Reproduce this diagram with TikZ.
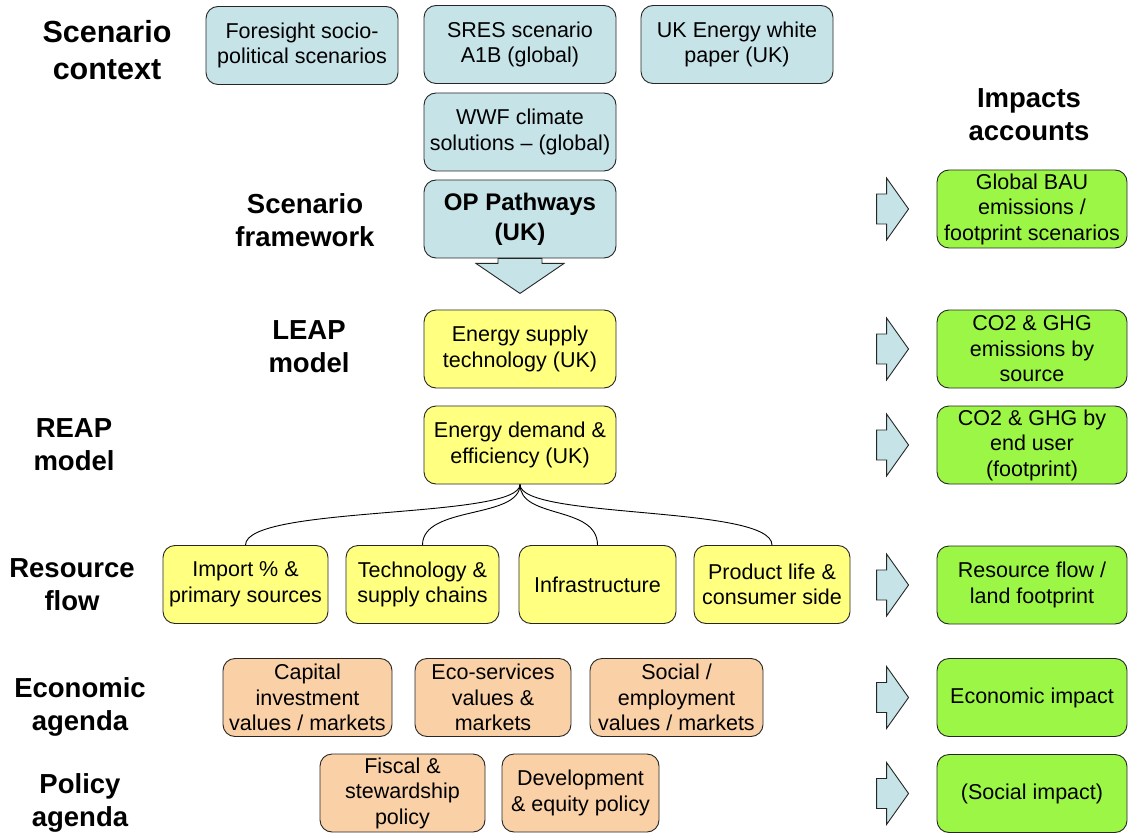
\documentclass[tikz,border=0pt]{standalone}
\usepackage{fontspec}
\setmainfont{Liberation Sans}
\usepackage{xcolor}
\definecolor{sb}{HTML}{C6E3E8}
\definecolor{sy}{HTML}{FFFF80}
\definecolor{sg}{HTML}{9CF646}
\definecolor{so}{HTML}{FAD0A6}
\definecolor{sk}{HTML}{262626}
\usetikzlibrary{positioning}

\begin{document}
\begin{tikzpicture}[x=1pt,y=-1pt,
  box/.style={draw=sk,line width=0.9pt,rounded corners=12pt,align=center,
    minimum height=78pt,inner sep=2pt,font=\fontsize{21.5}{25.5}\selectfont},
  bbox/.style={box,fill=sb,minimum width=192pt},
  ybox/.style={box,fill=sy},
  obox/.style={box,fill=so},
  gbox/.style={box,fill=sg,minimum width=190pt},
  rowlab/.style={align=center,font=\bfseries\fontsize{27.5}{33}\selectfont},
  blk/.style={draw=sk,line width=0.9pt,fill=sb},
  link/.style={draw=black,line width=0.9pt}]
  \useasboundingbox (0,0) rectangle (1129,834);

  % Row labels
  \node[rowlab,font=\bfseries\fontsize{30.5}{37}\selectfont] (lctx) at (107,50) {Scenario\\context};
  \node[rowlab] (lfw) at (305,220) {Scenario\\framework};
  \node[rowlab] (lleap) at (309,347) {LEAP\\model};
  \node[rowlab] (lreap) at (74,445) {REAP\\model};
  \node[rowlab] (lres) at (72,585) {Resource\\flow};
  \node[rowlab] (lecon) at (80,707) {Economic\\agenda};
  \node[rowlab] (lpol) at (80,803) {Policy\\agenda};
  \node[rowlab] (limp) at (1029,115) {Impacts\\accounts};

  % Scenario context and framework
  \node[bbox] (fore) at (302,45.5) {Foresight socio-\\political scenarios};
  \node[bbox] (sres) at (520,44.5) {SRES scenario\\A1B (global)};
  \node[bbox] (ukep) at (737,44.5) {UK Energy white\\paper (UK)};
  \node[bbox] (wwf) at (520,132) {WWF climate\\solutions -- (global)};
  \node[bbox,font=\bfseries\fontsize{24}{30}\selectfont] (op) at (520,219) {OP Pathways\\(UK)};

  % Down arrow under the pathways box
  \draw[blk] ([shift={(-22,0)}]op.south) -- ([shift={(-22,5)}]op.south) -- ([shift={(-44,5)}]op.south)
    -- ([shift={(0,35)}]op.south) -- ([shift={(44,5)}]op.south) -- ([shift={(22,5)}]op.south)
    -- ([shift={(22,0)}]op.south) -- cycle;

  % LEAP / REAP models
  \node[ybox,minimum width=192pt] (sup) at (520,349) {Energy supply\\technology (UK)};
  \node[ybox,minimum width=192pt] (dem) at (520,445) {Energy demand \&\\efficiency (UK)};

  % Resource flow
  \node[ybox,minimum width=165pt] (imp) at (245.5,584.5) {Import \% \&\\primary sources};
  \node[ybox,minimum width=153pt] (tech) at (422.5,584.5) {Technology \&\\supply chains};
  \node[ybox,minimum width=157pt] (infra) at (597.5,584.5) {Infrastructure};
  \node[ybox,minimum width=156pt] (prod) at (772,584.5) {Product life \&\\consumer side};

  \foreach \n in {imp,tech,infra,prod}
    \draw[link] (dem.south) .. controls +(0,35) and +(0,-40) .. (\n.north);

  % Economic and policy agenda
  \node[obox,minimum width=169pt] (cap) at (307.5,697.5) {Capital\\investment\\values / markets};
  \node[obox,minimum width=156pt] (ecos) at (493,697.5) {Eco-services\\values \&\\markets};
  \node[obox,minimum width=173pt] (soc) at (676.5,697.5) {Social /\\employment\\values / markets};
  \node[obox,minimum width=165pt] (fisc) at (402.5,793) {Fiscal \&\\stewardship\\policy};
  \node[obox,minimum width=157pt] (dev) at (580.5,793) {Development\\\& equity policy};

  % Impacts accounts
  \node[gbox] (gbau) at (1032,209) {Global BAU\\emissions /\\footprint scenarios};
  \node[gbox] (co2s) at (1032,349) {CO2 \& GHG\\emissions by\\source};
  \node[gbox] (co2u) at (1032,445) {CO2 \& GHG by\\end user\\(footprint)};
  \node[gbox] (resf) at (1032,585) {Resource flow /\\land footprint};
  \node[gbox] (ecoi) at (1032,697.5) {Economic impact};
  \node[gbox] (soci) at (1032,793.5) {(Social impact)};

  % Block arrows into the accounts
  \foreach \n in {gbau,co2s,co2u,resf,ecoi,soci}
    \draw[blk] ([shift={(-60,-15)}]\n.west) -- ([shift={(-50,-15)}]\n.west) -- ([shift={(-50,-31)}]\n.west)
      -- ([shift={(-28,0)}]\n.west) -- ([shift={(-50,31)}]\n.west) -- ([shift={(-50,15)}]\n.west)
      -- ([shift={(-60,15)}]\n.west) -- cycle;
\end{tikzpicture}
\end{document}
